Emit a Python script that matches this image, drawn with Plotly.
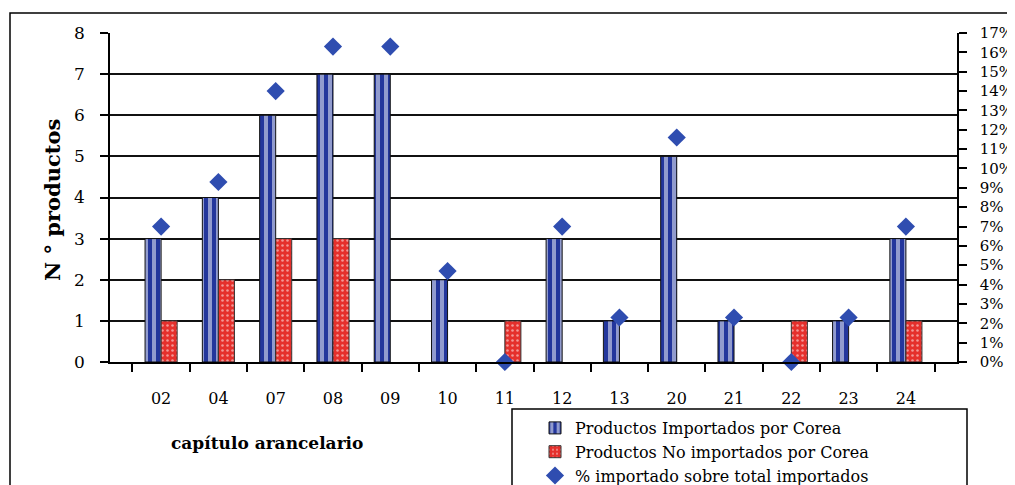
import plotly.graph_objects as go

categories = ["02", "04", "07", "08", "09", "10", "11", "12", "13", "20", "21", "22", "23", "24"]
importados = [3, 4, 6, 7, 7, 2, 0, 3, 1, 5, 1, 0, 1, 3]
no_importados = [1, 2, 3, 3, 0, 0, 1, 0, 0, 0, 0, 1, 0, 1]
pct_importado = [7.0, 9.3, 14.0, 16.3, 16.3, 4.7, 0.0, 7.0, 2.3, 11.6, 2.3, 0.0, 2.3, 7.0]
right_ticks = list(range(0, 18))
right_labels = [f"{v}%" for v in right_ticks]

BLUE = "#23369c"
RED = "#e5302c"
DIAM = "#2f4db0"
SERIF = "DejaVu Serif, serif"

fig = go.Figure()
fig.add_trace(go.Bar(
    x=categories, y=[v if v else None for v in importados],
    name="Productos Importados por Corea",
    marker=dict(color=BLUE, line=dict(color="#111", width=1),
                pattern=dict(shape="|", fgcolor="white", bgcolor=BLUE, size=8, solidity=0.5)),
))
fig.add_trace(go.Bar(
    x=categories, y=[v if v else None for v in no_importados],
    name="Productos No importados por Corea",
    marker=dict(color=RED, line=dict(color="#333", width=1),
                pattern=dict(shape=".", fgcolor="white", bgcolor=RED, size=5, solidity=0.2)),
))
fig.add_trace(go.Scatter(
    x=categories, y=pct_importado, name="% importado sobre total importados",
    yaxis="y2", mode="markers", cliponaxis=False,
    marker=dict(symbol="diamond", size=14, color=DIAM),
))

# page offset (default body margin of the html page)
OFF = 8
W, H = 1015, 485
# plot area in screen pixels
SX0, SX1, SY0, SY1 = 110, 957, 33, 362
L = SX0 - OFF
R = W - (SX1 - OFF)
T = SY0 - OFF
B = H - (SY1 - OFF)
pw = SX1 - SX0
ph = SY1 - SY0

def px_x(x):
    return (x - SX0) / pw

def px_y(y):
    return (SY1 - y) / ph

fig.update_layout(
    width=W, height=H,
    margin=dict(l=L, r=R, t=T, b=B, autoexpand=False),
    paper_bgcolor="white", plot_bgcolor="white",
    barmode="group", bargap=0.44, bargroupgap=0,
    font=dict(family=SERIF, color="black", size=16),
    showlegend=True,
    legend=dict(x=px_x(535), y=px_y(411), xanchor="left", yanchor="top",
                bgcolor="rgba(0,0,0,0)", borderwidth=0,
                font=dict(family=SERIF, size=16, color="black"),
                itemwidth=30, tracegroupgap=0),
    xaxis=dict(
        type="category", showline=True, linecolor="black", linewidth=1.5,
        ticks="outside", tickson="boundaries", ticklen=8, tickcolor="black", tickwidth=1.5,
        ticklabelstandoff=21, tickfont=dict(family=SERIF, size=16),
        showgrid=False, fixedrange=True, automargin=False,
    ),
    yaxis=dict(
        range=[0, 8], dtick=1, showline=True, linecolor="black", linewidth=1.5,
        ticks="outside", ticklen=8, tickcolor="black", tickwidth=1.5,
        ticklabelstandoff=12,
        showgrid=True, gridcolor="#111", gridwidth=1.5, zeroline=False,
        tickfont=dict(family=SERIF, size=17), automargin=False,
    ),
    yaxis2=dict(
        overlaying="y", side="right", range=[0, 17], tickvals=right_ticks, ticktext=right_labels,
        showline=True, linecolor="black", linewidth=1.5,
        ticks="outside", ticklen=8, tickcolor="black", tickwidth=1.5,
        ticklabelstandoff=10,
        showgrid=False, zeroline=False, automargin=False,
        tickfont=dict(family=SERIF, size=15),
    ),
    shapes=[
        dict(type="rect", xref="paper", yref="paper",
             x0=px_x(10), x1=px_x(1040), y0=px_y(520), y1=px_y(13),
             line=dict(color="black", width=1.5), fillcolor="rgba(0,0,0,0)", layer="below"),
        dict(type="rect", xref="paper", yref="paper",
             x0=px_x(512), x1=px_x(967), y0=px_y(520), y1=px_y(409),
             line=dict(color="black", width=1.5), fillcolor="rgba(0,0,0,0)"),
    ],
    annotations=[
        dict(text="<b>N ° productos</b>", xref="paper", yref="paper",
             x=px_x(52), y=px_y(200), xanchor="center", yanchor="middle",
             textangle=-90, showarrow=False,
             font=dict(family=SERIF, size=21, color="black")),
        dict(text="<b>capítulo arancelario</b>", xref="paper", yref="paper",
             x=px_x(267), y=px_y(443), xanchor="center", yanchor="middle",
             showarrow=False,
             font=dict(family=SERIF, size=17, color="black")),
    ],
)

fig.write_html("out.html")
